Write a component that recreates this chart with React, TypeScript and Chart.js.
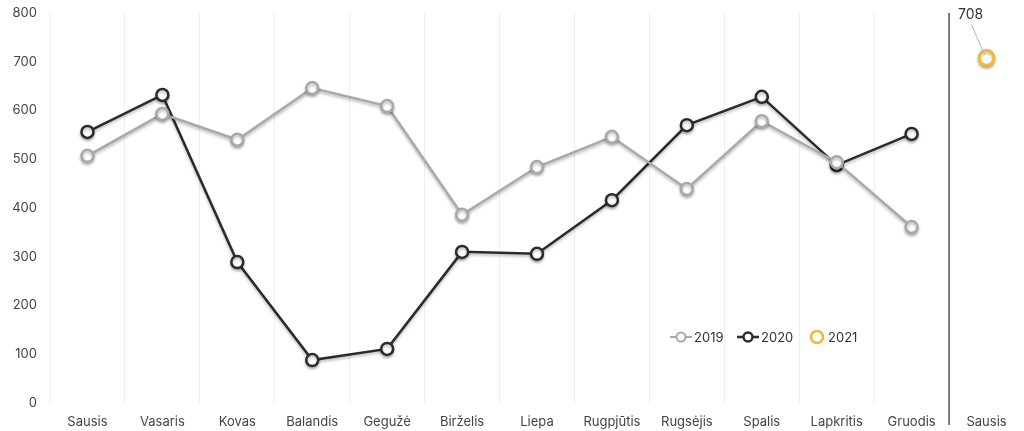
import React, { useEffect, useRef } from "react";
import { Chart, registerables } from "chart.js";

Chart.register(...registerables);

const categories = ["Sausis", "Vasaris", "Kovas", "Balandis", "Gegužė", "Birželis", "Liepa", "Rugpjūtis", "Rugsėjis", "Spalis", "Lapkritis", "Gruodis", "Sausis"];
const series2019 = [507, 593, 540, 646, 609, 386, 484, 546, 439, 578, 494, 361, null];
const series2020 = [556, 632, 289, 88, 111, 310, 306, 416, 570, 628, 488, 552, null];
const series2021 = [null, null, null, null, null, null, null, null, null, null, null, null, 708];
const seriesNames = ["2019", "2020", "2021"];
const yMin = 0;
const yMax = 800;
const yStep = 100;

const GRAY = "#a9a9a9";
const DARK = "#2b2b2b";
const YELLOW = "#f4b92f";
const FONT = "Inter, 'Noto Sans', sans-serif";

const shadowPlugin = {
  id: "shadowPlugin",
  beforeDatasetDraw(chart: any) {
    const ctx = chart.ctx;
    ctx.save();
    ctx.shadowColor = "rgba(0,0,0,0.28)";
    ctx.shadowBlur = 3;
    ctx.shadowOffsetX = 0;
    ctx.shadowOffsetY = 2;
  },
  afterDatasetDraw(chart: any) {
    chart.ctx.restore();
  },
};

const separatorPlugin = {
  id: "separatorPlugin",
  beforeDatasetsDraw(chart: any) {
    const ctx = chart.ctx;
    const xs = chart.scales.x;
    const n = categories.length;
    const x = (xs.getPixelForTick(n - 2) + xs.getPixelForTick(n - 1)) / 2;
    ctx.save();
    ctx.strokeStyle = "#7a7a7a";
    ctx.lineWidth = 2;
    ctx.beginPath();
    ctx.moveTo(x, chart.chartArea.top);
    ctx.lineTo(x, chart.chartArea.bottom + 22);
    ctx.stroke();
    ctx.restore();
  },
};

const annotationPlugin = {
  id: "annotationPlugin",
  afterDatasetsDraw(chart: any) {
    const ctx = chart.ctx;
    const meta = chart.getDatasetMeta(2);
    const idx = categories.length - 1;
    const pt = meta.data[idx];
    if (!pt) return;
    const px = pt.x;
    const py = pt.y;
    ctx.save();
    ctx.strokeStyle = "#b5b5b5";
    ctx.lineWidth = 1;
    ctx.beginPath();
    ctx.moveTo(px - 15, py - 33);
    ctx.lineTo(px - 2, py - 3);
    ctx.stroke();
    ctx.fillStyle = "#333";
    ctx.font = `14px ${FONT}`;
    ctx.textAlign = "center";
    ctx.textBaseline = "middle";
    ctx.fillText(String(series2021[idx]), px - 16, py - 43);
    ctx.restore();
  },
};

const legendPlugin = {
  id: "customLegend",
  afterDraw(chart: any) {
    const ctx = chart.ctx;
    const y = 337;
    ctx.save();
    ctx.font = `13px ${FONT}`;
    ctx.textBaseline = "middle";
    ctx.textAlign = "left";
    const items = [
      { x: 670, color: GRAY, line: true, r: 4.5, bw: 2 },
      { x: 737, color: DARK, line: true, r: 4.5, bw: 2.5 },
      { x: 810, color: YELLOW, line: false, r: 6, bw: 2.5 },
    ];
    items.forEach((it, i) => {
      let cx: number;
      let tx: number;
      if (it.line) {
        ctx.strokeStyle = it.color;
        ctx.lineWidth = it.bw;
        ctx.beginPath();
        ctx.moveTo(it.x, y);
        ctx.lineTo(it.x + 22, y);
        ctx.stroke();
        cx = it.x + 11;
        tx = it.x + 24;
      } else {
        cx = it.x + 7;
        tx = it.x + 18;
      }
      ctx.fillStyle = "#fff";
      ctx.strokeStyle = it.color;
      ctx.lineWidth = it.bw;
      ctx.beginPath();
      ctx.arc(cx, y, it.r, 0, Math.PI * 2);
      ctx.fill();
      ctx.stroke();
      ctx.fillStyle = "#333";
      ctx.fillText(seriesNames[i], tx, y + 1);
    });
    ctx.restore();
  },
};

export default function App() {
  const ref = useRef<HTMLCanvasElement | null>(null);
  useEffect(() => {
    if (!ref.current) return;
    const chart = new Chart(ref.current, {
      type: "line",
      data: {
        labels: categories,
        datasets: [
          {
            label: seriesNames[0],
            data: series2019,
            borderColor: GRAY,
            backgroundColor: "#fff",
            borderWidth: 2.5,
            pointRadius: 6,
            pointBorderWidth: 2.5,
            pointBackgroundColor: "#fff",
            pointBorderColor: GRAY,
            tension: 0,
          },
          {
            label: seriesNames[1],
            data: series2020,
            borderColor: DARK,
            backgroundColor: "#fff",
            borderWidth: 2.5,
            pointRadius: 6,
            pointBorderWidth: 2.5,
            pointBackgroundColor: "#fff",
            pointBorderColor: DARK,
            tension: 0,
          },
          {
            label: seriesNames[2],
            data: series2021,
            showLine: false,
            borderColor: YELLOW,
            backgroundColor: "#fff",
            pointRadius: 7.5,
            pointBorderWidth: 3,
            pointBackgroundColor: "#fff",
            pointBorderColor: YELLOW,
          },
        ],
      },
      options: {
        responsive: false,
        animation: false,
        layout: { autoPadding: false, padding: { top: 13, right: 0, left: 0, bottom: 0 } },
        plugins: {
          legend: { display: false },
          tooltip: { enabled: false },
        },
        scales: {
          x: {
            type: "category",
            offset: true,
            grid: { display: true, offset: true, color: "#efefef", lineWidth: 1, drawTicks: false },
            border: { display: false },
            ticks: { color: "#444", font: { family: FONT, size: 13 }, padding: 11, maxRotation: 0, autoSkip: false },
            afterFit: (s: any) => { s.height = 28; s.paddingLeft = 0; s.paddingRight = 0; },
          },
          y: {
            min: yMin,
            max: yMax,
            grid: { display: false, drawTicks: false },
            border: { display: false },
            ticks: { stepSize: yStep, color: "#444", font: { family: FONT, size: 13 }, padding: 13 },
            afterFit: (s: any) => { s.width = 50; s.paddingTop = 0; s.paddingBottom = 0; },
          },
        },
      },
      plugins: [separatorPlugin, shadowPlugin, annotationPlugin, legendPlugin],
    });
    return () => chart.destroy();
  }, []);
  return (
    <div style={{ position: "absolute", left: 0, top: 0, width: 1024, height: 431, background: "#fff" }}>
      <canvas ref={ref} width={1024} height={431} style={{ display: "block" }} />
    </div>
  );
}
